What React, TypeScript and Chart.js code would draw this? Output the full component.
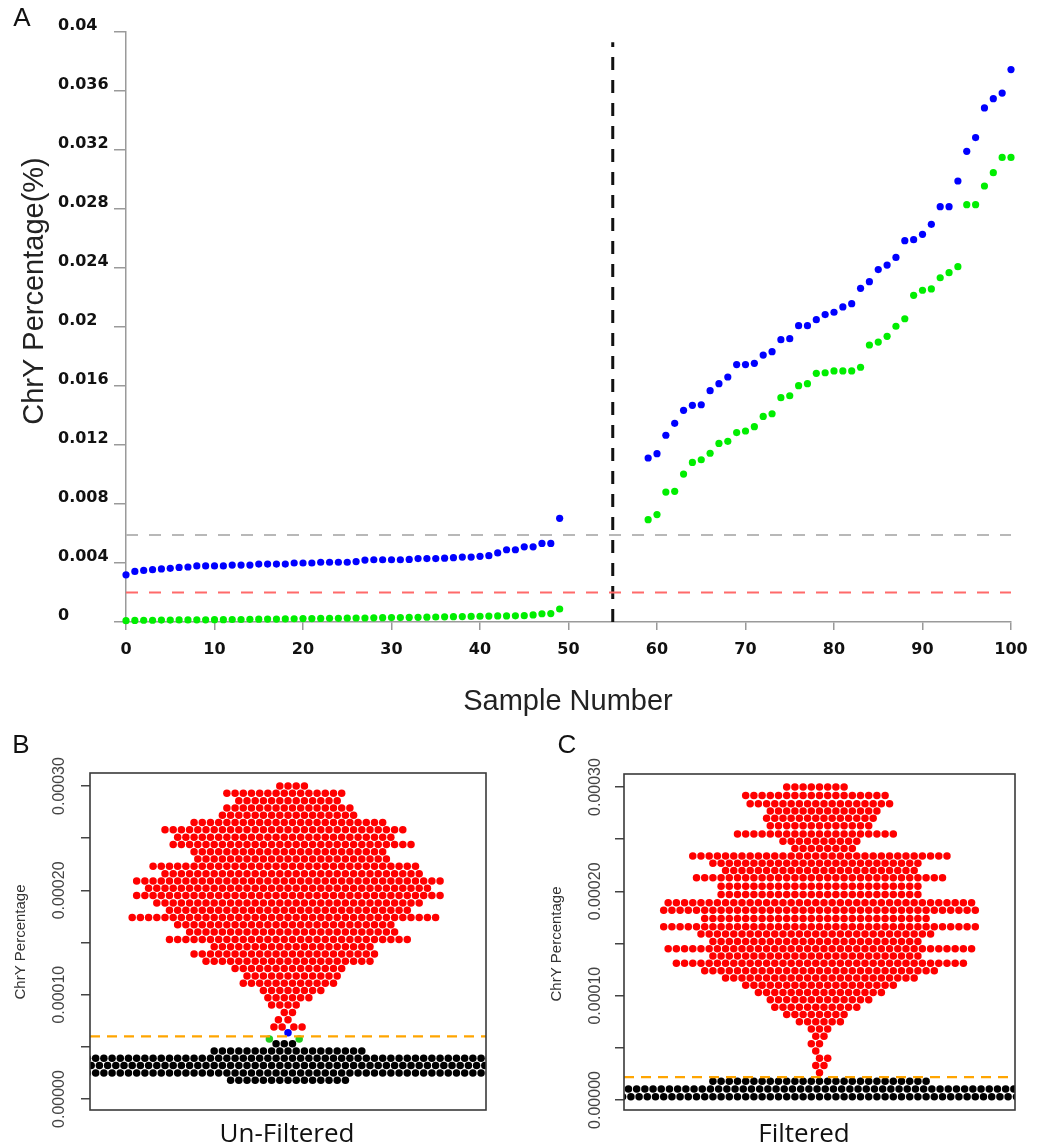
import React, { useEffect, useRef } from 'react';
import { Chart, registerables } from 'chart.js';
Chart.register(...registerables);

// ---------------- Panel A data ----------------
const sampleLow = Array.from({ length: 50 }, (_, i) => i);
const sampleHigh = Array.from({ length: 42 }, (_, i) => 59 + i);
const blueLow = [
  0.0032, 0.00343, 0.0035, 0.00355, 0.0036, 0.00364, 0.0037, 0.00373, 0.0038, 0.0038,
  0.0038, 0.0038, 0.00386, 0.00386, 0.00386, 0.00393, 0.00393, 0.00393, 0.00393, 0.004,
  0.004, 0.004, 0.00405, 0.00405, 0.00405, 0.00405, 0.0041, 0.0042, 0.00422, 0.00422,
  0.00422, 0.00422, 0.00424, 0.0043, 0.0043, 0.0043, 0.00433, 0.00436, 0.0044, 0.0044,
  0.00445, 0.0045, 0.00468, 0.0049, 0.0049, 0.0051, 0.0051, 0.00533, 0.00533, 0.00703,
];
const greenLow = [
  0.00009, 0.00011, 0.00012, 0.00012, 0.00013, 0.00013, 0.00014, 0.00014, 0.00015, 0.00015,
  0.00016, 0.00016, 0.00017, 0.00017, 0.00018, 0.00019, 0.0002, 0.0002, 0.00021, 0.00022,
  0.00023, 0.00023, 0.00024, 0.00025, 0.00025, 0.00026, 0.00027, 0.00027, 0.00028, 0.00029,
  0.0003, 0.0003, 0.00031, 0.00032, 0.00033, 0.00034, 0.00035, 0.00036, 0.00037, 0.00038,
  0.00039, 0.0004, 0.00041, 0.00041, 0.00042, 0.00043, 0.00048, 0.00056, 0.00057, 0.00088,
];
const blueHigh = [
  0.01112, 0.01141, 0.01266, 0.01347, 0.01435, 0.01469, 0.01473, 0.01568, 0.01616, 0.01661,
  0.01745, 0.01745, 0.01754, 0.0181, 0.01833, 0.01914, 0.01921, 0.02009, 0.02009, 0.0205,
  0.02084, 0.021, 0.02136, 0.02158, 0.02262, 0.02307, 0.02389, 0.0242, 0.02472, 0.02585,
  0.02592, 0.02628, 0.02696, 0.02816, 0.02816, 0.0299, 0.03191, 0.03284, 0.03485, 0.03548,
  0.03586, 0.03745,
];
const greenHigh = [
  0.00694, 0.00728, 0.00881, 0.00886, 0.01003, 0.01082, 0.011, 0.01144, 0.01211, 0.01225,
  0.01284, 0.01295, 0.01324, 0.01394, 0.01412, 0.01521, 0.01534, 0.01602, 0.01616, 0.01686,
  0.0169, 0.01702, 0.01702, 0.01702, 0.01727, 0.01878, 0.01898, 0.01937, 0.02005, 0.02056,
  0.02215, 0.02249, 0.02258, 0.02334, 0.02368, 0.02409, 0.02829, 0.02829, 0.02956, 0.03046,
  0.0315, 0.0315,
];
const grayThreshold = 0.0059;
const redThreshold = 0.002;
const splitSample = 55;
const splitTop = 0.0393;
const xTicksA = [0, 10, 20, 30, 40, 50, 60, 70, 80, 90, 100];
const yTicksA = [0, 0.004, 0.008, 0.012, 0.016, 0.02, 0.024, 0.028, 0.032, 0.036, 0.04];

// ---------------- Panels B / C data (value in 1e-5 %, number of samples) ----------------
const unfilteredBlack: [number, number][] = [[1.8, 15], [2.5, 62], [3.2, 62], [3.9, 62], [4.6, 19], [5.3, 3]];
const unfilteredGreen: [number, number][] = [[5.75, 2]];
const unfilteredBlue: [number, number][] = [[6.35, 1]];
const unfilteredRed: [number, number][] = [
  [6.9, 4], [7.6, 2], [8.3, 2], [9.0, 4], [9.7, 6], [10.4, 8], [11.1, 12], [11.8, 12], [12.5, 14],
  [13.2, 21], [13.9, 23], [14.6, 20], [15.3, 30], [16.0, 26], [16.7, 27], [17.4, 38], [18.1, 30],
  [18.8, 33], [19.5, 38], [20.2, 35], [20.9, 38], [21.6, 32], [22.3, 33], [23.0, 24], [23.7, 24],
  [24.4, 30], [25.1, 27], [25.8, 30], [26.5, 24], [27.2, 17], [27.9, 16], [28.6, 13], [29.3, 15], [30.0, 4],
];
const filteredBlack: [number, number][] = [[0.3, 60], [1.05, 60], [1.8, 27]];
const filteredRed: [number, number][] = [
  [2.6, 1], [3.3, 2], [4.0, 2], [4.7, 1], [5.4, 2], [6.1, 2], [6.8, 3], [7.5, 6], [8.2, 8], [8.9, 11],
  [9.6, 13], [10.3, 16], [11.0, 19], [11.7, 24], [12.4, 29], [13.1, 36], [13.8, 26], [14.5, 38],
  [15.2, 26], [15.9, 29], [16.6, 39], [17.4, 28], [18.2, 39], [18.9, 38], [19.7, 25], [20.5, 25],
  [21.3, 31], [22.0, 24], [22.7, 26], [23.4, 32], [24.1, 8], [24.8, 10], [25.5, 20], [26.3, 13],
  [27.0, 14], [27.7, 14], [28.4, 18], [29.2, 18], [30.0, 8],
];
const unfilteredCut = 0.00006;
const filteredCut = 0.000022;
const yTicksBC = [0, 0.00005, 0.0001, 0.00015, 0.0002, 0.00025, 0.0003];
const yLabelsBC = [0, 0.0001, 0.0002, 0.0003];

const UNIT = 1e-5;
const PX_PER_UNIT = 10.433; // vertical pixels per 1e-5 in panels B/C
const DOT_GAP = 8.2; // beeswarm spacing in px

type Pt = { x: number; y: number; g: string };

function beeswarm(groups: { g: string; rows: [number, number][] }[]): Pt[] {
  const items: { v: number; g: string }[] = [];
  groups.forEach((gr) => gr.rows.forEach(([v, n]) => { for (let i = 0; i < n; i++) items.push({ v, g: gr.g }); }));
  items.sort((a, b) => a.v - b.v);
  const placed: { x: number; py: number; v: number; g: string }[] = [];
  const d = DOT_GAP;
  for (const it of items) {
    const py = it.v * PX_PER_UNIT;
    const nb: { x: number; py: number }[] = [];
    for (let j = placed.length - 1; j >= 0; j--) {
      if (py - placed[j].py >= d) break;
      nb.push(placed[j]);
    }
    const cands = [0];
    for (const q of nb) {
      const dy = py - q.py;
      const dx = Math.sqrt(Math.max(0, d * d - dy * dy));
      cands.push(q.x + dx, q.x - dx);
    }
    cands.sort((a, b) => Math.abs(a) - Math.abs(b) || a - b);
    let best = 0;
    for (const c of cands) {
      let ok = true;
      for (const q of nb) {
        const dx = c - q.x, dy = py - q.py;
        if (dx * dx + dy * dy < d * d - 1e-6) { ok = false; break; }
      }
      if (ok) { best = c; break; }
    }
    placed.push({ x: best, py, v: it.v, g: it.g });
  }
  return placed.map((p) => ({ x: p.x, y: p.v * UNIT, g: p.g }));
}

type TextItem = { text: string; x: number; y: number; font: string; color: string; rot?: number; align?: CanvasTextAlign };

function textPlugin(items: TextItem[]) {
  return {
    id: 'texts',
    afterDraw(chart: any) {
      const ctx = chart.ctx;
      for (const t of items) {
        ctx.save();
        ctx.translate(t.x, t.y);
        if (t.rot) ctx.rotate(t.rot);
        ctx.font = t.font;
        ctx.fillStyle = t.color;
        ctx.textAlign = t.align ?? 'center';
        ctx.textBaseline = 'middle';
        ctx.fillText(t.text, 0, 0);
        ctx.restore();
      }
    },
  };
}

function boxPlugin(labelX: number) {
  return {
    id: 'box',
    afterDatasetsDraw(chart: any) {
      const { ctx, chartArea } = chart;
      ctx.save();
      ctx.strokeStyle = '#3a3a3a';
      ctx.lineWidth = 1.6;
      ctx.strokeRect(chartArea.left, chartArea.top, chartArea.right - chartArea.left, chartArea.bottom - chartArea.top);
      const ys = chart.scales.y;
      ctx.font = '16px "Liberation Sans", Arial, sans-serif';
      ctx.fillStyle = '#444';
      ctx.textAlign = 'center';
      ctx.textBaseline = 'middle';
      for (const v of yLabelsBC) {
        ctx.save();
        ctx.translate(labelX, ys.getPixelForValue(v));
        ctx.rotate(-Math.PI / 2);
        ctx.fillText(v.toFixed(5), 0, 0);
        ctx.restore();
      }
      ctx.restore();
    },
  };
}

function makeA(canvas: HTMLCanvasElement) {
  const pts = (xs: number[], ys: number[]) => xs.map((x, i) => ({ x, y: ys[i] }));
  const dot = (data: any, color: string) => ({
    data, showLine: false, pointRadius: 3.6, pointBorderWidth: 0, pointBackgroundColor: color,
    backgroundColor: color, borderColor: color, clip: false as const, order: 0,
  });
  const line = (data: any, color: string, width: number, dash: number[]) => ({
    data, showLine: true, pointRadius: 0, borderColor: color, borderWidth: width, borderDash: dash,
    clip: false as const, order: 5,
  });
  const tickFont = { family: '"DejaVu Sans", sans-serif', size: 16, weight: 'bold' as const };
  return new Chart(canvas, {
    type: 'scatter',
    data: {
      datasets: [
        dot(pts(sampleLow, blueLow), '#0000ff'),
        dot(pts(sampleLow, greenLow), '#00ee00'),
        dot(pts(sampleHigh, blueHigh), '#0000ff'),
        dot(pts(sampleHigh, greenHigh), '#00ee00'),
        line([{ x: 0, y: grayThreshold }, { x: 100, y: grayThreshold }], '#b8b8b8', 2, [12, 11]),
        line([{ x: 0, y: redThreshold }, { x: 100, y: redThreshold }], '#ff6a6a', 2, [12, 11]),
        line([{ x: splitSample, y: 0 }, { x: splitSample, y: splitTop }], '#111111', 3, [13, 10]),
      ] as any,
    },
    options: {
      animation: false,
      responsive: false,
      events: [],
      plugins: { legend: { display: false }, tooltip: { enabled: false } },
      layout: { padding: { left: 58, right: 48, top: 32, bottom: 0 } },
      scales: {
        x: {
          type: 'linear', min: 0, max: 100,
          afterBuildTicks: (s: any) => { s.ticks = xTicksA.map((v) => ({ value: v })); },
          afterFit: (s: any) => { s.height = 103; },
          ticks: { font: tickFont, color: '#111', padding: 10, maxRotation: 0 },
          grid: { drawOnChartArea: false, drawTicks: true, tickLength: 8, color: '#9a9a9a', lineWidth: 1.5 },
          border: { color: '#9a9a9a', width: 1.5 },
        },
        y: {
          type: 'linear', min: 0, max: 0.04,
          afterBuildTicks: (s: any) => { s.ticks = yTicksA.map((v) => ({ value: v })); },
          afterFit: (s: any) => { s.width = 68; },
          ticks: {
            font: tickFont, color: '#111', padding: 5, labelOffset: -6, crossAlign: 'far',
            callback: (v: any) => String(Number(Number(v).toFixed(3))),
          },
          grid: { drawOnChartArea: false, drawTicks: true, tickLength: 12, color: '#9a9a9a', lineWidth: 1.5 },
          border: { color: '#9a9a9a', width: 1.5 },
        },
      },
    } as any,
    plugins: [textPlugin([
      { text: 'A', x: 22, y: 19, font: '26px "Liberation Sans", Arial, sans-serif', color: '#111' },
      { text: 'ChrY Percentage(%)', x: 35, y: 291, rot: -Math.PI / 2, font: '29px "Liberation Sans", Arial, sans-serif', color: '#222' },
      { text: 'Sample Number', x: 568, y: 702, font: '29px "Liberation Sans", Arial, sans-serif', color: '#222' },
    ])],
  });
}

function makeSwarm(
  canvas: HTMLCanvasElement,
  pts: Pt[],
  cut: number,
  half: number,
  yMin: number,
  padTop: number,
  scaleWidth: number,
  texts: TextItem[],
  labelX: number,
) {
  const colors: Record<string, string> = { black: '#000000', green: '#22cc22', blue: '#0000ff', red: '#ff0000' };
  const groups = ['black', 'green', 'blue', 'red'];
  const datasets: any[] = [
    {
      data: [{ x: -half, y: cut }, { x: half, y: cut }], showLine: true, pointRadius: 0,
      borderColor: '#ffa500', borderWidth: 2.3, borderDash: [10, 7], order: 0, clip: 0,
    },
  ];
  groups.forEach((g, i) => {
    const data = pts.filter((p) => p.g === g).map((p) => ({ x: p.x, y: p.y }));
    if (!data.length) return;
    datasets.push({
      data, showLine: false, pointRadius: 3.75, pointBorderWidth: 0, pointBackgroundColor: colors[g],
      backgroundColor: colors[g], order: 1 + i, clip: 0,
    });
  });
  return new Chart(canvas, {
    type: 'scatter',
    data: { datasets },
    options: {
      animation: false,
      responsive: false,
      events: [],
      plugins: { legend: { display: false }, tooltip: { enabled: false } },
      layout: { padding: { left: 0, right: 44, top: padTop, bottom: 37 } },
      scales: {
        x: { type: 'linear', min: -half, max: half, display: false },
        y: {
          type: 'linear', min: yMin, max: 0.0003125,
          afterBuildTicks: (s: any) => { s.ticks = yTicksBC.map((v) => ({ value: v })); },
          afterFit: (s: any) => { s.width = scaleWidth; },
          ticks: { display: false },
          grid: { drawOnChartArea: false, drawTicks: true, tickLength: 9, color: '#444', lineWidth: 1.5 },
          border: { display: false },
        },
      },
    } as any,
    plugins: [boxPlugin(labelX), textPlugin(texts)],
  });
}

export default function App() {
  const refA = useRef<HTMLCanvasElement>(null);
  const refB = useRef<HTMLCanvasElement>(null);
  const refC = useRef<HTMLCanvasElement>(null);
  useEffect(() => {
    const ptsB = beeswarm([
      { g: 'black', rows: unfilteredBlack },
      { g: 'green', rows: unfilteredGreen },
      { g: 'blue', rows: unfilteredBlue },
      { g: 'red', rows: unfilteredRed },
    ]);
    const ptsC = beeswarm([
      { g: 'black', rows: filteredBlack },
      { g: 'red', rows: filteredRed },
    ]);
    const a = makeA(refA.current!);
    const b = makeSwarm(refB.current!, ptsB, unfilteredCut, 198, -0.00001054, 48, 90, [
      { text: 'B', x: 21, y: 21, font: '26px "Liberation Sans", Arial, sans-serif', color: '#111' },
      { text: 'ChrY Percentage', x: 21, y: 217, rot: -Math.PI / 2, font: '15px "Liberation Sans", Arial, sans-serif', color: '#333' },
      { text: 'Un-Filtered', x: 287, y: 410, font: '26px "Open Sans", sans-serif', color: '#111' },
    ], 60);
    const c = makeSwarm(refC.current!, ptsC, filteredCut, 195.5, -0.0000096, 49, 94, [
      { text: 'C', x: 37, y: 21, font: '26px "Liberation Sans", Arial, sans-serif', color: '#111' },
      { text: 'ChrY Percentage', x: 27, y: 219, rot: -Math.PI / 2, font: '15px "Liberation Sans", Arial, sans-serif', color: '#333' },
      { text: 'Filtered', x: 274, y: 410, font: '26px "Open Sans", sans-serif', color: '#111' },
    ], 66);
    return () => { a.destroy(); b.destroy(); c.destroy(); };
  }, []);
  return (
    <div style={{ position: 'absolute', left: 0, top: 0, width: 1059, height: 1147, background: '#fff', overflow: 'hidden' }}>
      <canvas ref={refA} width={1059} height={725} style={{ position: 'absolute', left: 0, top: 0, width: 1059, height: 725 }} />
      <canvas ref={refB} width={530} height={422} style={{ position: 'absolute', left: 0, top: 725, width: 530, height: 422 }} />
      <canvas ref={refC} width={529} height={422} style={{ position: 'absolute', left: 530, top: 725, width: 529, height: 422 }} />
    </div>
  );
}
